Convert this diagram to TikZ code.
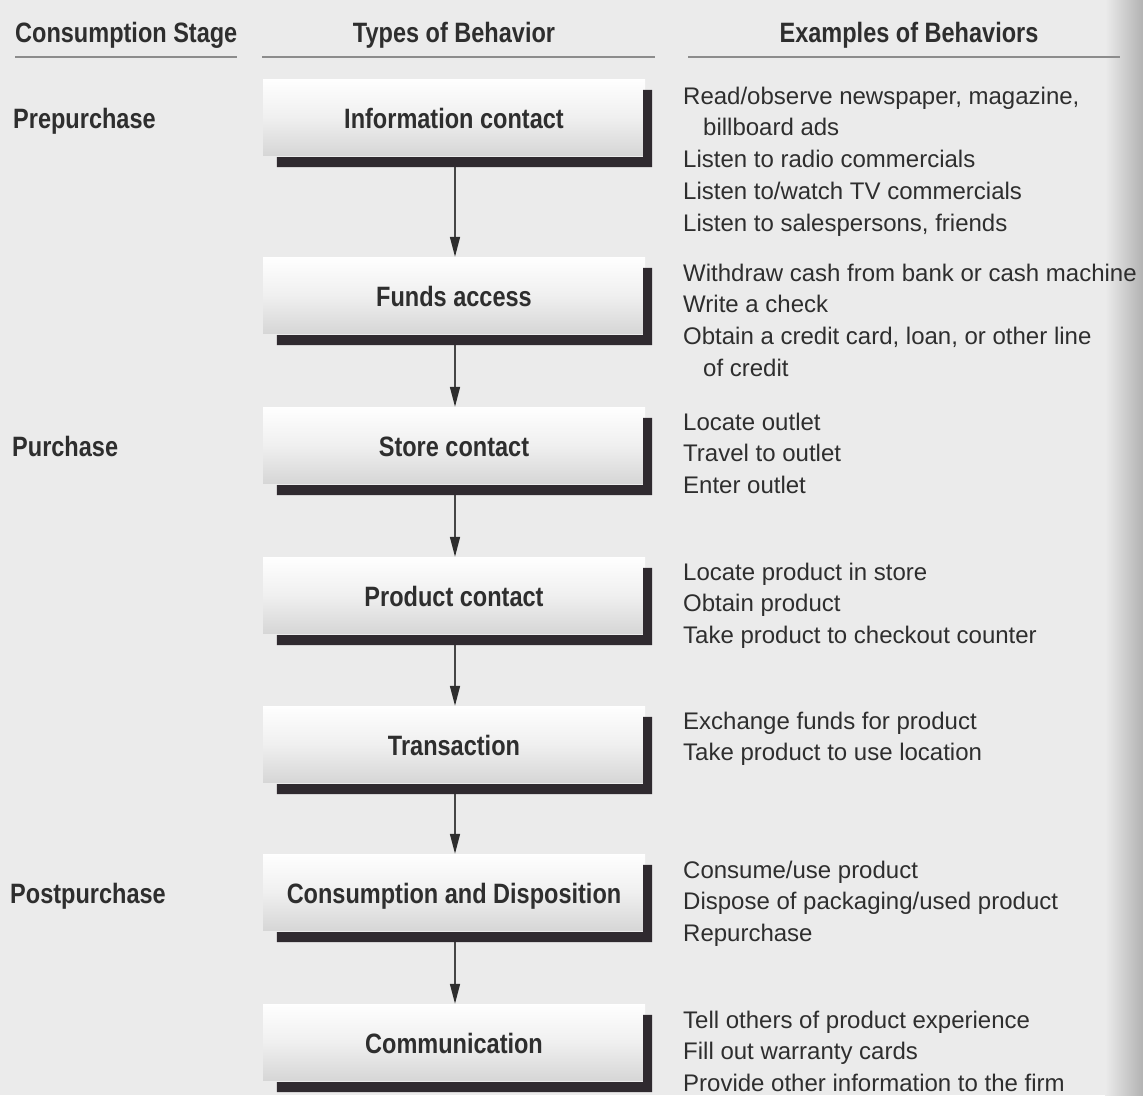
\documentclass[tikz,border=0pt]{standalone}
\usepackage{fontspec}
\setmainfont{Liberation Sans}
\newfontfamily\condbold{Liberation Sans Bold}[FakeStretch=0.84]
\usetikzlibrary{arrows.meta,calc}
\definecolor{paper}{HTML}{EBEBEB}
\definecolor{ink}{HTML}{2E2E2E}
\definecolor{barcol}{HTML}{2F2A2F}
\definecolor{rulecol}{HTML}{8C8C8C}

% dark L-shaped ledge under and to the right of a behaviour box
\newcommand\ledge[1]{%
  \fill[barcol] ($(#1.south west)+(14,2)$) -- ($(#1.south east)+(-2,2)$)
    -- ($(#1.north east)+(-2,11)$) -- ($(#1.north east)+(7,11)$)
    -- ($(#1.south east)+(7,12)$) -- ($(#1.south west)+(14,12)$) -- cycle;}

% one column of example lines, first baseline at #2
\newcommand\exgroup[3]{%
  \foreach \ln [count=\k] in {#3}{%
    \node[ex] (#1-\k) at (683,{#2+31.75*(\k-1)}) {\ln};}}

\begin{document}
\begin{tikzpicture}[x=1pt,y=-1pt,
  head/.style={font=\condbold\fontsize{28}{30}\selectfont, text=ink, inner sep=0pt, anchor=base},
  stage/.style={head, anchor=base west},
  box/.style={rectangle, minimum width=382pt, minimum height=76pt, inner sep=0pt,
    text height=26pt, text depth=4pt, top color=white!98!paper, bottom color=gray!32,
    middle color=white!88!gray,
    font=\condbold\fontsize{28}{30}\selectfont, text=ink},
  ex/.style={font=\fontsize{24}{30}\selectfont, text=ink, inner sep=0pt, anchor=base west},
  hrule/.style={draw=rulecol, line width=2.5pt},
  arr/.style={draw=gray!55!black, line width=1.5pt,
    -{Triangle[length=20pt,width=10pt,fill=ink,color=ink]}}]

\fill[paper] (0,0) rectangle (1143,1095);
\useasboundingbox (0,0) rectangle (1143,1095);
\shade[left color=paper, right color=gray!60] (1105,0) rectangle (1143,1095);

% column headings
\node[head, anchor=base west] (h1) at (15,42) {Consumption Stage};
\node[head] (h2) at (454,42) {Types of Behavior};
\node[head] (h3) at (909,42) {Examples of Behaviors};
\draw[hrule] (15,57) -- (237,57);
\draw[hrule] (262,57) -- (655,57);
\draw[hrule] (688,57) -- (1120,57);

% stages
\node[stage] (s1) at (13,128) {Prepurchase};
\node[stage] (s2) at (12,456) {Purchase};
\node[stage] (s3) at (10,903) {Postpurchase};

% behaviour boxes
\node[box] (b1) at (454,117) {Information contact};
\node[box] (b2) at (454,295) {Funds access};
\node[box] (b3) at (454,445) {Store contact};
\node[box] (b4) at (454,595) {Product contact};
\node[box] (b5) at (454,744) {Transaction};
\node[box] (b6) at (454,892) {Consumption and Disposition};
\node[box] (b7) at (454,1042) {Communication};

% arrows between boxes
\foreach \a/\b in {b1/b2,b2/b3,b3/b4,b4/b5,b5/b6,b6/b7}
  \draw[arr] ([shift={(1,12)}]\a.south) -- ([xshift=1pt]\b.north);

\foreach \n in {b1,b2,b3,b4,b5,b6,b7} \ledge{\n};

% examples
\exgroup{e1}{104}{{Read/observe newspaper, magazine,},{\hspace*{20pt}billboard ads},{Listen to radio commercials},{Listen to/watch TV commercials},{Listen to salespersons, friends}}
\exgroup{e2}{281}{{Withdraw cash from bank or cash machine},{Write a check},{Obtain a credit card, loan, or other line},{\hspace*{20pt}of credit}}
\exgroup{e3}{430}{{Locate outlet},{Travel to outlet},{Enter outlet}}
\exgroup{e4}{580}{{Locate product in store},{Obtain product},{Take product to checkout counter}}
\exgroup{e5}{729}{{Exchange funds for product},{Take product to use location}}
\exgroup{e6}{878}{{Consume/use product},{Dispose of packaging/used product},{Repurchase}}
\exgroup{e7}{1028}{{Tell others of product experience},{Fill out warranty cards},{Provide other information to the firm}}
\end{tikzpicture}
\end{document}
